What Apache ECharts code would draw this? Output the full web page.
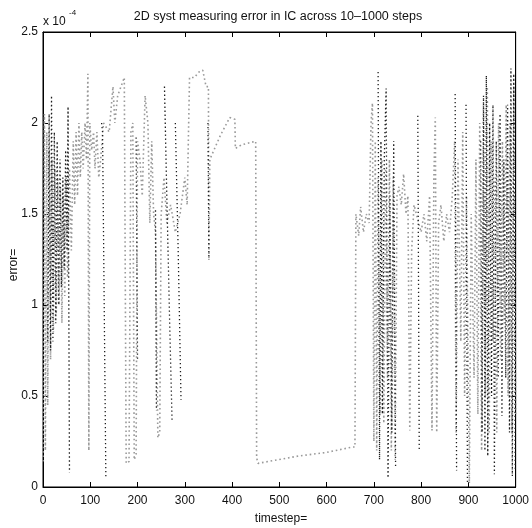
<!DOCTYPE html>
<html><head><meta charset="utf-8">
<script src="https://cdn.jsdelivr.net/npm/echarts@6/dist/echarts.min.js"></script>
<style>html,body{margin:0;padding:0;background:#fff}#c{width:532px;height:528px}</style>
</head><body><div id="c"></div>
<script>
// ---- text ----
const titleText = '2D syst measuring error in IC across 10\u20131000 steps';
const xName = 'timestep=';
const yName = 'error=';
const yExponent = '-4';
// ---- axes ----
const xMin = 0, xMax = 1000, xStep = 100;
const yMin = 0, yMax = 2.5, yStep = 0.5;
const xTickLabels = ['0', '100', '200', '300', '400', '500', '600', '700', '800', '900', '1000'];
const yTickLabels = ['0', '0.5', '1', '1.5', '2', '2.5'];

// ---- light (gray) trace: timestep / error (x 1e-4) ----
const grayT = [0,3,5,8,10,13,16,19,22,25,28,31,34,37,40,43,46,49,52,56,60,64,67,70,73,76,79,82,85,89,92,95,97,99,103,107,110,114,118,122,128,140,148,152,158,165,172,176,182,186,190,193,197,200,205,210,216,222,226,230,234,238,243,247,250,256,262,270,280,290,300,305,310,320,330,338,345,350,351,353,375,395,406,407,420,450,452,455,540,600,655,660,662,668,672,678,684,690,694,697,700,703,706,709,713,717,721,725,729,733,737,741,745,749,753,758,763,768,772,776,780,785,800,806,812,818,823,827,830,833,837,842,848,854,860,866,871,874,878,884,888,892,896,902,906,912,916,920,924,928,932,936,940,944,948,952,956,960,964,968,972,976,980,984,988,992,996,1000];
const grayV = [0.14,2.05,0.2,1.95,0.45,1.85,0.7,1.8,0.85,1.75,0.95,1.7,1.0,1.65,0.9,1.6,1.05,1.7,1.15,1.75,1.3,1.9,1.55,1.95,1.6,2.0,1.7,1.95,1.75,2.0,1.8,2.27,0.2,2.0,1.85,1.95,1.75,1.95,1.7,1.8,2.0,1.95,2.2,2.0,2.15,2.2,2.25,0.13,0.14,1.95,2.0,0.15,0.18,1.9,1.8,1.6,2.15,2.0,1.45,1.9,1.5,1.4,0.27,0.3,1.5,1.7,1.45,1.55,1.4,1.5,1.7,1.55,2.25,2.25,2.28,2.29,2.2,2.2,1.25,1.8,1.93,2.03,2.02,1.86,1.88,1.9,0.16,0.13,0.17,0.19,0.22,0.22,1.5,1.38,1.54,1.4,1.5,1.45,2.0,2.11,0.25,1.9,0.2,1.7,0.4,1.8,0.35,1.75,0.6,1.8,0.2,1.7,0.15,1.6,1.65,1.55,1.72,1.5,1.6,0.31,1.3,1.55,1.4,1.5,1.35,1.6,0.31,1.7,2.03,0.3,1.45,1.55,1.35,1.5,1.4,1.6,1.9,0.3,1.8,0.8,1.95,0.5,1.6,0.02,1.5,0.6,1.8,0.4,2.0,0.2,2.1,0.5,2.2,0.3,1.9,0.8,1.7,0.3,2.0,0.7,1.9,0.9,2.1,0.5,2.0,0.3,2.2,0.4];

// ---- dark (black) trace: null = gap ----
const blackT = [10,13,16,18,21,24,27,30,33,36,39,42,45,48,51,53,56,56, 124,126,133,133, 197,200,200, 238,240,240, 257,262,268,273,273, 280,286,292,292, 349,351,351, 709,712,715,718,722,726,730,734,738,742,746,746, 793,796,796, 872,875,875, 895,898,898, 926,929,932,935,938,941,945,949,952,955,959,963,967,971,975,979,983,987,990,993,996,999];
const blackV = [0.8,2.05,0.75,2.15,0.8,1.95,0.9,1.9,1.0,1.8,1.1,1.7,1.2,1.85,1.3,2.09,0.08,null, 2.0,1.95,0.05,null, 1.92,0.7,null, 1.52,0.42,null, 2.2,1.6,0.9,0.37,null, 2.0,1.3,0.48,null, 2.0,1.25,null, 2.28,0.15,1.9,0.4,1.8,2.19,0.05,1.6,0.3,1.9,0.1,null, 2.04,0.2,null, 2.16,0.09,null, 2.1,0.02,null, 1.9,0.3,2.15,0.2,2.26,0.17,2.0,0.5,2.1,0.07,1.9,0.6,2.05,0.39,1.8,0.6,2.1,0.3,2.3,0.06,2.27,0.1];

const FONT = 'Liberation Sans, Arial, sans-serif';
const pair = (T, V) => T.map((t, i) => [t, V[i] === null ? '-' : V[i]]);

const chart = echarts.init(document.getElementById('c'), null, {renderer: 'canvas'});
const mkLine = () => ({show: true, onZero: false, lineStyle: {color: '#000', width: 1}});
const mkTick = () => ({show: true, inside: true, length: 5, lineStyle: {color: '#000', width: 1}});

chart.setOption({
  animation: false,
  backgroundColor: '#fff',
  grid: {left: 43, right: 13, top: 32, bottom: 41, show: true, borderColor: '#000', borderWidth: 1, backgroundColor: 'transparent'},
  xAxis: [
    {type: 'value', gridIndex: 0, min: xMin, max: xMax, interval: xStep, position: 'bottom',
      axisLine: mkLine(), axisTick: mkTick(), splitLine: {show: false},
      axisLabel: {color: '#111', fontSize: 12, fontFamily: FONT, margin: 8,
        formatter: (v) => xTickLabels[Math.round((v - xMin) / xStep)]}},
    {type: 'value', gridIndex: 0, show: true, min: xMin, max: xMax, interval: xStep, position: 'top', offset: 0,
      axisLine: mkLine(), axisTick: mkTick(), splitLine: {show: false}, axisLabel: {show: false}}
  ],
  yAxis: [
    {type: 'value', gridIndex: 0, min: yMin, max: yMax, interval: yStep, position: 'left',
      axisLine: mkLine(), axisTick: mkTick(), splitLine: {show: false},
      axisLabel: {color: '#111', fontSize: 12, fontFamily: FONT, margin: 5,
        formatter: (v) => yTickLabels[Math.round((v - yMin) / yStep)]}},
    {type: 'value', gridIndex: 0, show: true, min: yMin, max: yMax, interval: yStep, position: 'right', offset: 0,
      axisLine: mkLine(), axisTick: mkTick(), splitLine: {show: false}, axisLabel: {show: false}}
  ],
  series: [
    {type: 'line', xAxisIndex: 0, yAxisIndex: 0, data: pair(grayT, grayV), showSymbol: false, connectNulls: false,
      lineStyle: {color: '#9a9a9a', width: 1.6, type: [1.6, 2.8]}, z: 2},
    {type: 'line', xAxisIndex: 0, yAxisIndex: 0, data: pair(blackT, blackV), showSymbol: false, connectNulls: false,
      lineStyle: {color: '#1c1c1c', width: 1.3, type: [1.3, 2.7]}, z: 3},
    {type: 'line', xAxisIndex: 1, yAxisIndex: 1, data: [], showSymbol: false}
  ],
  graphic: [
    {type: 'text', x: 278, y: 10, style: {text: titleText, font: '12.5px ' + FONT, fill: '#111', textAlign: 'center', textVerticalAlign: 'top'}},
    {type: 'text', x: 43, y: 16, style: {text: 'x 10', font: '12px ' + FONT, fill: '#111', textAlign: 'left', textVerticalAlign: 'top'}},
    {type: 'text', x: 69, y: 9, style: {text: yExponent, font: '8px ' + FONT, fill: '#111', textAlign: 'left', textVerticalAlign: 'top'}},
    {type: 'text', x: 281, y: 513, style: {text: xName, font: '12px ' + FONT, fill: '#111', textAlign: 'center', textVerticalAlign: 'top'}},
    {type: 'text', x: 14, y: 265, rotation: Math.PI / 2, style: {text: yName, font: '12px ' + FONT, fill: '#111', textAlign: 'center', textVerticalAlign: 'middle'}}
  ]
});
</script>
</body></html>
